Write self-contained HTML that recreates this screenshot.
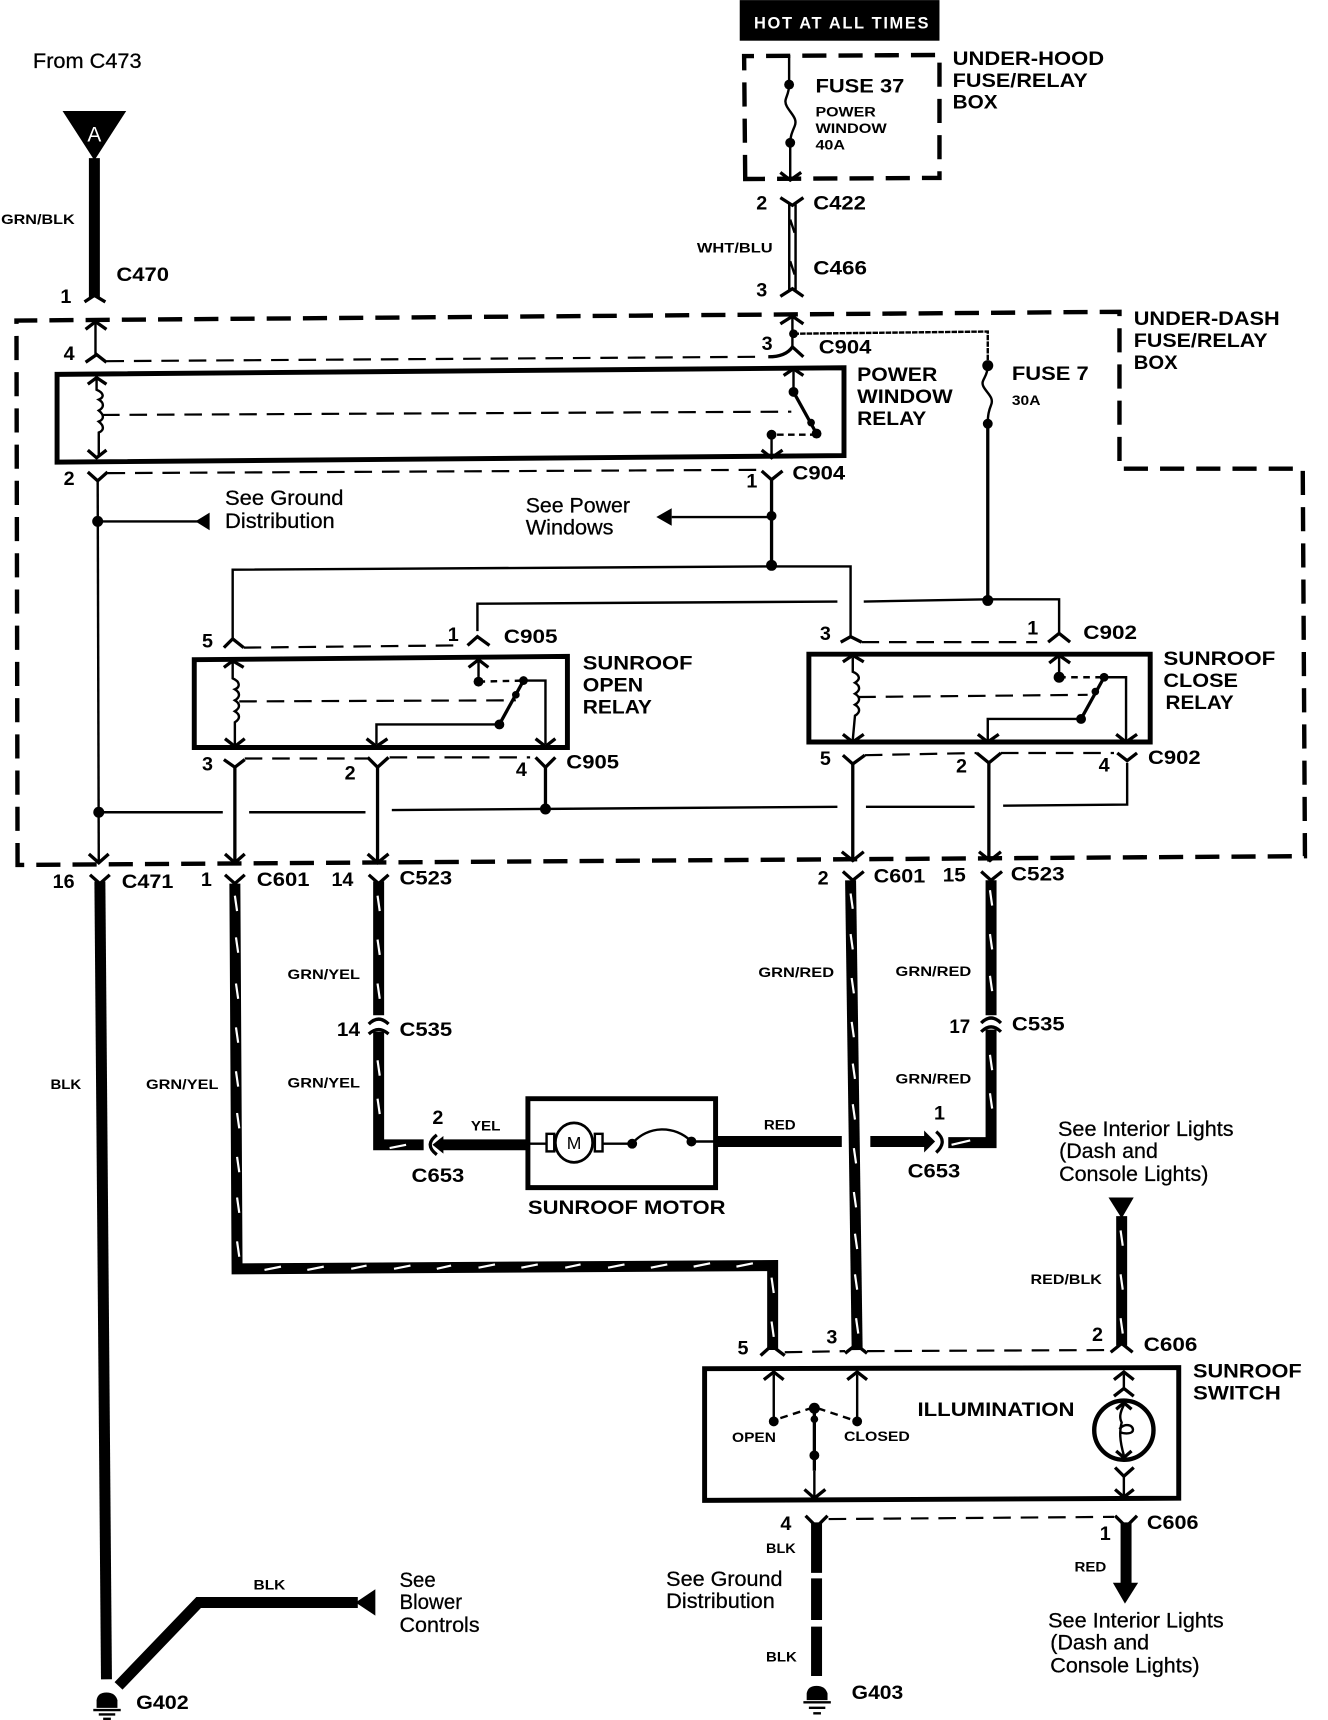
<!DOCTYPE html>
<html><head><meta charset="utf-8"><title>Sunroof wiring diagram</title>
<style>
html,body{margin:0;padding:0;background:#fff}
svg{display:block}
text{font-family:"Liberation Sans",sans-serif;fill:#000}
.b{font-weight:bold}
.s{font-size:18px}.t{font-size:13px}.m{font-size:19px;stroke:#000;stroke-width:.25px}
.w{fill:none;stroke:#000;stroke-linejoin:miter}
.a{fill:none;stroke:#000;stroke-width:3}
.l{fill:none;stroke:#000;stroke-width:2.2}
.h{fill:none;stroke:#000;stroke-width:3}
.d{fill:none;stroke:#000;stroke-width:2;stroke-dasharray:16 9}
.x{fill:none;stroke:#000;stroke-width:4;stroke-dasharray:22 11}
.k{fill:none;stroke:#000;stroke-width:10;stroke-linejoin:miter}
.y{fill:none;stroke:#fff;stroke-width:2}
.r{fill:none;stroke:#000;stroke-width:4.5}
</style></head><body>
<svg xmlns="http://www.w3.org/2000/svg" width="1328" height="1720" viewBox="0 0 1210 1567">
<rect width="1210" height="1567" fill="#fff"/>

<!-- outer dashed boxes -->
<path class="x" d="M16,790 L15,292 L1020,284 L1020,427 L1187,427 L1189,780 L16,788"/>
<path class="x" d="M679,163 L678,51 L856,50 L856,162 Z"/>

<!-- top black banner -->
<rect x="674" y="0" width="182" height="37" fill="#000"/>
<text x="687" y="26" class="b" font-size="15" style="fill:#fff" textLength="159" lengthAdjust="spacing">HOT AT ALL TIMES</text>

<!-- fuse 37 -->
<path class="l" d="M719,50 V77 C719,88 713,90 717,97 C721,104 727,108 724,115 C722,120 720,124 720,130 V162"/>
<circle cx="719" cy="77" r="4.5"/><circle cx="720" cy="130" r="4.5"/>
<path class="a" d="M711,157 L720,164 L730,157"/>

<!-- C422 / C466 wire -->
<path d="M722,186 V264" stroke="#000" stroke-width="8" fill="none"/>
<path d="M722,186 V264" stroke="#fff" stroke-width="3.5" fill="none"/>
<path class="l" d="M720,200 L724,212 M720,238 L724,250"/>
<path class="a" stroke-width="4" d="M711,180 L722,187 L732,180"/>
<path class="a" d="M711,270 L722,263 L732,270"/>

<!-- A triangle and top wire -->
<path d="M57,101 H115 L86,146 Z"/>
<text x="86" y="129" text-anchor="middle" font-size="19" style="fill:#fff">A</text>
<path class="k" d="M86,144 V271"/>
<path class="a" d="M77,275 L86,269 L96,275"/>

<!-- power window relay -->
<path class="r" d="M52,341 L769,335 V415 L52,421 Z"/>
<path class="l" d="M87,294 V325"/>
<path class="a" d="M78,300 L87,293 L97,300"/>
<path class="a" d="M78,330 L88,323 L97,330"/>
<path class="d" d="M97,329 L695,325"/>
<path class="l" d="M722,289 V318"/>
<path class="a" d="M711,295 L722,288 L732,295"/>
<path class="a" d="M700,325 Q716,325 722,316 L732,325"/>
<circle cx="723" cy="304" r="4"/>
<path fill="none" stroke="#000" stroke-width="2.2" stroke-dasharray="5 1" d="M723,304 L900,302 V333"/>
<circle cx="900" cy="333" r="5"/>
<path class="l" d="M900,333 C900,344 893,346 896,352 C899,358 906,362 903,369 C901,374 900,378 900,386"/>
<circle cx="900" cy="386" r="4.5"/>
<path class="h" d="M900,386 V547"/>
<circle cx="900" cy="547" r="5"/>
<path class="l" d="M787,548 L900,546 H965 V576"/>
<path class="l" d="M435,575 V550 L763,548"/>
<path class="a" d="M426,588 L435,580 L446,588"/>
<path class="a" d="M955,585 L965,577 L975,585"/>

<!-- PWR coil -->
<path class="a" d="M80,350 L88,344 L97,350"/>
<path class="l" d="M88,345 V355 C95,358 95,362 90,364 C95,367 95,371 90,374 C95,378 95,382 90,384 C95,388 95,392 90,394 V415"/>
<path class="a" d="M80,410 L88,417 L97,410"/>
<path class="d" d="M93,378 L721,375"/>
<path class="a" d="M714,342 L723,336 L732,342"/>
<path class="l" d="M723,338 V357"/>
<circle cx="723" cy="357" r="4.5"/>
<path class="h" d="M723,357 L744,395"/>
<circle cx="739" cy="385" r="3.5"/><circle cx="744" cy="395" r="4.5"/>
<path class="l" stroke-dasharray="6 4" d="M744,396 L703,396"/>
<circle cx="703" cy="396" r="4.5"/>
<path class="l" d="M703,396 V416"/>
<path class="a" d="M694,410 L703,417 L713,410"/>

<!-- below PWR relay -->
<path class="a" d="M80,430 L89,438 L98,430"/>
<path class="d" d="M98,431 L692,428"/>
<path class="a" d="M694,429 L703,437 L713,429"/>
<path class="l" d="M89,437 L90,786"/>
<circle cx="89" cy="475" r="5"/>
<path class="l" d="M89,475 H180"/>
<path d="M178,475 L191,467 V483 Z"/>
<path class="h" d="M703,437 V515"/>
<circle cx="703" cy="470" r="4.5"/><circle cx="703" cy="515" r="5"/>
<path class="l" d="M612,471 H703"/>
<path d="M598,471 L612,463 V479 Z"/>
<path class="l" d="M212,582 V519 L703,516 H775 V580"/>

<!-- open relay -->
<path class="r" d="M177,601 L517,598 V681 L177,681 Z"/>
<path class="a" d="M204,590 L212,582 L222,590"/>
<path class="d" d="M222,590 L413,588"/>
<path class="a" d="M204,608 L212,602 L222,608"/>
<path class="l" d="M212,603 V618 C219,621 219,626 214,628 C219,631 219,635 214,638 C219,641 219,645 214,648 C219,651 219,655 214,658 L214,679"/>
<path class="a" d="M205,673 L214,680 L223,673"/>
<path class="d" d="M218,639 L470,638"/>
<path class="a" d="M427,608 L436,601 L445,608"/>
<path class="l" d="M436,603 V621"/>
<circle cx="436" cy="621" r="4.5"/>
<path class="l" stroke-dasharray="6 5" d="M436,621 L477,620"/>
<circle cx="477" cy="620" r="4"/>
<path class="l" d="M477,620 H497 V678"/>
<path class="h" d="M477,620 L455,660"/>
<circle cx="470" cy="633" r="3.5"/>
<circle cx="455" cy="660" r="4.5"/>
<path class="l" d="M455,660 H343 V678"/>
<path class="a" d="M334,673 L343,680 L353,673"/>
<path class="a" d="M488,673 L497,680 L506,673"/>

<path class="a" d="M204,692 L214,699 L223,692"/>
<path class="d" d="M223,691 L336,691"/>
<path class="a" d="M335,690 L344,699 L354,690"/>
<path class="d" d="M355,690 L483,690"/>
<path class="a" d="M488,690 L497,699 L506,690"/>
<path class="h" d="M214,699 V785 M344,699 V785"/>
<path class="h" d="M497,699 V737"/>
<circle cx="497" cy="737" r="5"/><circle cx="90" cy="740" r="5"/>
<path class="l" d="M90,740 H203 M227,740 H333 M357,738 L763,735 M789,735 H888 M914,734 L1027,733 V695"/>

<!-- close relay -->
<path class="r" d="M737,596 H1048 V676 H737 Z"/>
<path class="a" d="M766,585 L775,580 L785,585"/>
<path class="d" d="M785,585 L945,585"/>
<path class="a" d="M768,603 L777,597 L787,603"/>
<path class="l" d="M777,599 V612 C784,615 784,619 779,622 C784,625 784,629 779,632 C784,635 784,639 779,642 C784,645 784,649 779,652 L777,674"/>
<path class="a" d="M768,669 L777,676 L787,669"/>
<path class="d" d="M782,635 L991,633"/>
<path class="a" d="M956,604 L965,597 L975,604"/>
<path class="l" d="M965,599 V617"/>
<circle cx="965" cy="617" r="5"/>
<path class="l" stroke-dasharray="6 5" d="M965,617 L1006,617"/>
<circle cx="1006" cy="617" r="4"/>
<path class="l" d="M1006,617 H1026 V674"/>
<path class="h" d="M1006,617 L985,655"/>
<circle cx="998" cy="630" r="3.5"/>
<circle cx="985" cy="655" r="4.5"/>
<path class="l" d="M985,655 H900 V674"/>
<path class="a" d="M891,669 L900,676 L910,669"/>
<path class="a" d="M1017,669 L1026,676 L1036,669"/>

<path class="a" d="M768,688 L777,696 L788,688"/>
<path class="d" d="M788,688 L890,686"/>
<path class="a" d="M890,686 L901,695 L912,686"/>
<path class="d" d="M912,686 L1015,686"/>
<path class="a" d="M1018,686 L1027,693 L1036,686"/>
<path class="h" d="M777,695 V785 M901,695 V785"/>

<!-- arrowheads at box bottom -->
<path class="a" d="M81,778 L90,786 L99,778 M205,778 L214,786 L223,778 M335,778 L344,786 L354,778 M767,776 L777,784 L787,776 M892,776 L902,784 L912,776"/>
<path class="a" stroke-width="4" d="M82,797 L91,805 L100,797 M205,797 L214,805 L223,797 M336,797 L345,805 L354,797 M768,794 L777,802 L787,794 M894,794 L903,802 L913,794"/>

<!-- lower wires -->
<path class="k" d="M91,803 L97,1530"/>
<path class="k" d="M108,1536 L181,1460 L326,1460"/>
<path d="M324,1460 L342,1448 V1472 Z"/>

<path class="k" stroke-width="9" d="M214,805 L216,1156 L704,1153 V1230"/>
<path class="y" d="M214,816 l2,14 M215,854 l2,14 M215,896 l2,14 M215,936 l2,14 M215,976 l2,14 M216,1014 l2,14 M216,1054 l2,14 M216,1091 l2,14 M216,1131 l2,14 M241,1157 l15,-3 M280,1157 l15,-3 M320,1156 l14,-3 M359,1156 l15,-3 M398,1156 l13,-3 M436,1155 l15,-3 M475,1155 l15,-3 M515,1155 l14,-3 M554,1155 l15,-3 M593,1155 l15,-3 M632,1154 l15,-3 M671,1154 l15,-3 M703,1164 l2,14 M703,1204 l2,14"/>

<path class="k" stroke-width="9" d="M345,803 V925"/>
<path class="k" stroke-width="9" d="M345,940 V1043 H386"/>
<path class="y" d="M344,816 l2,14 M344,856 l2,14 M344,896 l2,14 M344,966 l2,14 M344,1001 l2,14 M355,1046 l15,-3"/>
<path class="a" stroke-width="4" d="M336,933 Q345,924 354,933 M336,942 Q345,934 354,942"/>
<path class="a" stroke-width="4" d="M398,1034 Q386,1043 398,1052"/>
<path d="M394,1043 L404,1035 V1051 Z"/>
<path class="k" d="M400,1043 H481"/>

<path class="k" stroke-width="12" d="M775,802 L781,1230"/>
<path class="y" d="M775,814 l2,14 M775,851 l2,14 M776,891 l2,14 M776,931 l2,14 M777,969 l2,14 M777,1006 l2,14 M778,1046 l2,14 M778,1086 l2,14 M779,1124 l2,14 M779,1161 l2,14 M780,1201 l2,14"/>

<path class="k" stroke-width="9" d="M903,802 V925"/>
<path class="k" stroke-width="9" d="M903,938 V1041 H864"/>
<path class="y" d="M902,811 l2,14 M902,851 l2,14 M902,889 l2,14 M902,961 l2,14 M902,996 l2,14 M867,1043 l17,-4"/>
<path class="a" stroke-width="4" d="M894,932 Q903,923 912,932 M894,940 Q903,931 912,940"/>
<path class="k" d="M652,1040 H767"/>
<path class="k" d="M793,1040 H845"/>
<path d="M852,1040 L842,1030 V1050 Z"/>
<path class="a" stroke-width="4" d="M853,1031 Q864,1040 853,1050"/>

<!-- motor -->
<path class="r" d="M481,1001 H652 V1082 H481 Z"/>
<ellipse cx="523" cy="1041" rx="17" ry="18" fill="#fff" stroke="#000" stroke-width="2.5"/>
<rect x="498" y="1033" width="7" height="16" fill="#fff" stroke="#000" stroke-width="2.2"/>
<rect x="542" y="1033" width="7" height="16" fill="#fff" stroke="#000" stroke-width="2.2"/>
<path class="l" d="M481,1042 H498 M549,1042 H576 C590,1025 615,1025 630,1040 H652"/>
<circle cx="576" cy="1042" r="4.5"/><circle cx="630" cy="1040" r="4.5"/>
<text x="523" y="1047" text-anchor="middle" font-size="16">M</text>

<!-- interior lights top -->
<path d="M1010,1091 H1033 L1022,1110 Z"/>
<path class="k" stroke-width="9" d="M1022,1108 V1226"/>
<path class="y" d="M1021,1121 l2,14 M1021,1161 l2,14 M1021,1201 l2,14"/>

<!-- switch -->
<path class="a" stroke-width="4" d="M693,1235 L703,1226 L715,1235 M770,1233 L780,1225 L790,1233 M1012,1232 L1022,1224 L1032,1232"/>
<path class="d" d="M715,1232 L770,1231 M790,1231 L1014,1230"/>
<path class="r" d="M642,1247 L1074,1246 V1365 L642,1367 Z"/>
<path class="a" d="M696,1257 L705,1250 L714,1257 M772,1257 L781,1250 L790,1257"/>
<path class="l" d="M705,1252 V1295 M781,1252 V1295"/>
<circle cx="705" cy="1295" r="4.5"/><circle cx="781" cy="1295" r="4.5"/>
<path class="l" stroke-dasharray="7 5" d="M711,1292 L742,1282 L775,1293"/>
<circle cx="742" cy="1283" r="5"/><circle cx="742" cy="1293" r="3.5"/><circle cx="742" cy="1326" r="4.5"/>
<path class="h" d="M742,1283 V1340"/><path class="l" d="M742,1340 V1364"/>
<path class="a" d="M733,1357 L742,1365 L752,1357"/>
<ellipse cx="1024" cy="1303" rx="27" ry="27" fill="none" stroke="#000" stroke-width="4"/>
<path class="a" d="M1015,1257 L1024,1250 L1033,1257 M1015,1272 L1024,1265 L1033,1272"/>
<path class="l" d="M1024,1252 V1266"/>
<path class="a" d="M1017,1284 L1024,1278 L1031,1284 M1017,1322 L1024,1328 L1031,1322"/>
<path class="l" d="M1024,1280 C1020,1288 1020,1292 1022,1296 C1020,1304 1020,1312 1024,1326"/>
<path class="l" d="M1020,1302 C1024,1296 1034,1298 1032,1304 C1030,1307 1023,1306 1021,1305"/>
<path class="a" d="M1016,1337 L1024,1345 L1033,1337 M1016,1357 L1024,1364 L1033,1357"/>
<path class="l" d="M1024,1345 V1364"/>

<!-- below switch -->
<path class="a" stroke-width="4.5" d="M734,1381 L744,1391 L754,1381 M1016,1381 L1026,1391 L1036,1381"/>
<path class="d" d="M755,1384 L1015,1382"/>
<path class="k" stroke-width="11" d="M744,1387 V1433 M744,1438 V1476 M744,1482 V1527"/>
<path class="k" d="M1026,1387 V1444"/>
<path d="M1014,1442 H1037 L1025,1461 Z"/>

<!-- grounds -->
<path d="M735,1549 V1543 Q736,1536 744,1536 Q752,1536 754,1543 V1549 Z"/>
<path class="l" d="M732,1551 H757 M737,1556 H752 M741,1561 H748"/>
<path d="M88,1556 V1549 Q89,1542 97,1542 Q105,1542 107,1549 V1556 Z"/>
<path class="l" d="M85,1558 H110 M90,1562 H105 M94,1566 H101"/>

<!-- labels -->
<g>
<text x="30" y="62" class="m" textLength="99" lengthAdjust="spacingAndGlyphs">From C473</text>
<text x="1" y="204" class="b t" textLength="67" lengthAdjust="spacingAndGlyphs">GRN/BLK</text>
<text x="106" y="256" class="b s" textLength="48" lengthAdjust="spacingAndGlyphs">C470</text>
<text x="55" y="276" class="b s">1</text>
<text x="58" y="328" class="b s">4</text>
<text x="58" y="442" class="b s">2</text>
<text x="694" y="319" class="b s">3</text>
<text x="746" y="322" class="b s" textLength="48" lengthAdjust="spacingAndGlyphs">C904</text>
<text x="680" y="444" class="b s">1</text>
<text x="722" y="437" class="b s" textLength="48" lengthAdjust="spacingAndGlyphs">C904</text>

<text x="743" y="84" class="b s" textLength="81" lengthAdjust="spacingAndGlyphs">FUSE 37</text>
<text x="743" y="106" class="b" font-size="12.5" textLength="55" lengthAdjust="spacingAndGlyphs">POWER</text>
<text x="743" y="121" class="b" font-size="12.5" textLength="65" lengthAdjust="spacingAndGlyphs">WINDOW</text>
<text x="743" y="136" class="b" font-size="12.5" textLength="27" lengthAdjust="spacingAndGlyphs">40A</text>
<text x="868" y="59" class="b s" textLength="138" lengthAdjust="spacingAndGlyphs">UNDER-HOOD</text>
<text x="868" y="79" class="b s" textLength="123" lengthAdjust="spacingAndGlyphs">FUSE/RELAY</text>
<text x="868" y="99" class="b s" textLength="41" lengthAdjust="spacingAndGlyphs">BOX</text>

<text x="689" y="191" class="b s">2</text>
<text x="741" y="191" class="b s" textLength="48" lengthAdjust="spacingAndGlyphs">C422</text>
<text x="635" y="230" class="b t" textLength="69" lengthAdjust="spacingAndGlyphs">WHT/BLU</text>
<text x="741" y="250" class="b s" textLength="49" lengthAdjust="spacingAndGlyphs">C466</text>
<text x="689" y="270" class="b s">3</text>

<text x="1033" y="296" class="b s" textLength="133" lengthAdjust="spacingAndGlyphs">UNDER-DASH</text>
<text x="1033" y="316" class="b s" textLength="122" lengthAdjust="spacingAndGlyphs">FUSE/RELAY</text>
<text x="1033" y="336" class="b s" textLength="40" lengthAdjust="spacingAndGlyphs">BOX</text>
<text x="922" y="346" class="b s" textLength="70" lengthAdjust="spacingAndGlyphs">FUSE 7</text>
<text x="922" y="369" class="b" font-size="12.5" textLength="26" lengthAdjust="spacingAndGlyphs">30A</text>

<text x="781" y="347" class="b s" textLength="73" lengthAdjust="spacingAndGlyphs">POWER</text>
<text x="781" y="367" class="b s" textLength="87" lengthAdjust="spacingAndGlyphs">WINDOW</text>
<text x="781" y="387" class="b s" textLength="63" lengthAdjust="spacingAndGlyphs">RELAY</text>

<text x="205" y="460" class="m" textLength="108" lengthAdjust="spacingAndGlyphs">See Ground</text>
<text x="205" y="481" class="m" textLength="100" lengthAdjust="spacingAndGlyphs">Distribution</text>
<text x="479" y="467" class="m" textLength="95" lengthAdjust="spacingAndGlyphs">See Power</text>
<text x="479" y="487" class="m" textLength="80" lengthAdjust="spacingAndGlyphs">Windows</text>

<text x="184" y="590" class="b s">5</text>
<text x="408" y="584" class="b s">1</text>
<text x="459" y="586" class="b s" textLength="49" lengthAdjust="spacingAndGlyphs">C905</text>
<text x="531" y="610" class="b s" textLength="100" lengthAdjust="spacingAndGlyphs">SUNROOF</text>
<text x="531" y="630" class="b s" textLength="55" lengthAdjust="spacingAndGlyphs">OPEN</text>
<text x="531" y="650" class="b s" textLength="63" lengthAdjust="spacingAndGlyphs">RELAY</text>
<text x="184" y="702" class="b s">3</text>
<text x="314" y="710" class="b s">2</text>
<text x="470" y="707" class="b s">4</text>
<text x="516" y="700" class="b s" textLength="48" lengthAdjust="spacingAndGlyphs">C905</text>

<text x="747" y="583" class="b s">3</text>
<text x="936" y="578" class="b s">1</text>
<text x="987" y="582" class="b s" textLength="49" lengthAdjust="spacingAndGlyphs">C902</text>
<text x="1060" y="606" class="b s" textLength="102" lengthAdjust="spacingAndGlyphs">SUNROOF</text>
<text x="1060" y="626" class="b s" textLength="68" lengthAdjust="spacingAndGlyphs">CLOSE</text>
<text x="1062" y="646" class="b s" textLength="62" lengthAdjust="spacingAndGlyphs">RELAY</text>
<text x="747" y="697" class="b s">5</text>
<text x="871" y="704" class="b s">2</text>
<text x="1001" y="703" class="b s">4</text>
<text x="1046" y="696" class="b s" textLength="48" lengthAdjust="spacingAndGlyphs">C902</text>

<text x="48" y="809" class="b s" textLength="20" lengthAdjust="spacingAndGlyphs">16</text>
<text x="111" y="809" class="b s" textLength="47" lengthAdjust="spacingAndGlyphs">C471</text>
<text x="183" y="807" class="b s">1</text>
<text x="234" y="807" class="b s" textLength="48" lengthAdjust="spacingAndGlyphs">C601</text>
<text x="302" y="807" class="b s" textLength="20" lengthAdjust="spacingAndGlyphs">14</text>
<text x="364" y="806" class="b s" textLength="48" lengthAdjust="spacingAndGlyphs">C523</text>
<text x="745" y="806" class="b s">2</text>
<text x="796" y="804" class="b s" textLength="47" lengthAdjust="spacingAndGlyphs">C601</text>
<text x="859" y="803" class="b s" textLength="21" lengthAdjust="spacingAndGlyphs">15</text>
<text x="921" y="802" class="b s" textLength="49" lengthAdjust="spacingAndGlyphs">C523</text>

<text x="46" y="992" class="b t" textLength="28" lengthAdjust="spacingAndGlyphs">BLK</text>
<text x="133" y="992" class="b t" textLength="66" lengthAdjust="spacingAndGlyphs">GRN/YEL</text>
<text x="262" y="892" class="b t" textLength="66" lengthAdjust="spacingAndGlyphs">GRN/YEL</text>
<text x="262" y="991" class="b t" textLength="66" lengthAdjust="spacingAndGlyphs">GRN/YEL</text>
<text x="307" y="944" class="b s" textLength="21" lengthAdjust="spacingAndGlyphs">14</text>
<text x="364" y="944" class="b s" textLength="48" lengthAdjust="spacingAndGlyphs">C535</text>
<text x="394" y="1024" class="b s">2</text>
<text x="429" y="1030" class="b t" textLength="27" lengthAdjust="spacingAndGlyphs">YEL</text>
<text x="375" y="1077" class="b s" textLength="48" lengthAdjust="spacingAndGlyphs">C653</text>
<text x="481" y="1106" class="b s" textLength="180" lengthAdjust="spacingAndGlyphs">SUNROOF MOTOR</text>

<text x="691" y="890" class="b t" textLength="69" lengthAdjust="spacingAndGlyphs">GRN/RED</text>
<text x="816" y="889" class="b t" textLength="69" lengthAdjust="spacingAndGlyphs">GRN/RED</text>
<text x="816" y="987" class="b t" textLength="69" lengthAdjust="spacingAndGlyphs">GRN/RED</text>
<text x="865" y="941" class="b s" textLength="19" lengthAdjust="spacingAndGlyphs">17</text>
<text x="922" y="939" class="b s" textLength="48" lengthAdjust="spacingAndGlyphs">C535</text>
<text x="851" y="1020" class="b s">1</text>
<text x="696" y="1029" class="b t" textLength="29" lengthAdjust="spacingAndGlyphs">RED</text>
<text x="827" y="1073" class="b s" textLength="48" lengthAdjust="spacingAndGlyphs">C653</text>

<text x="964" y="1035" class="m" textLength="160" lengthAdjust="spacingAndGlyphs">See Interior Lights</text>
<text x="965" y="1055" class="m" textLength="90" lengthAdjust="spacingAndGlyphs">(Dash and</text>
<text x="965" y="1076" class="m" textLength="136" lengthAdjust="spacingAndGlyphs">Console Lights)</text>
<text x="939" y="1170" class="b t" textLength="65" lengthAdjust="spacingAndGlyphs">RED/BLK</text>
<text x="995" y="1222" class="b s">2</text>
<text x="1042" y="1231" class="b s" textLength="49" lengthAdjust="spacingAndGlyphs">C606</text>
<text x="672" y="1234" class="b s">5</text>
<text x="753" y="1224" class="b s">3</text>
<text x="1087" y="1255" class="b s" textLength="99" lengthAdjust="spacingAndGlyphs">SUNROOF</text>
<text x="1087" y="1275" class="b s" textLength="80" lengthAdjust="spacingAndGlyphs">SWITCH</text>
<text x="836" y="1290" class="b s" textLength="143" lengthAdjust="spacingAndGlyphs">ILLUMINATION</text>
<text x="667" y="1314" class="b t" textLength="40" lengthAdjust="spacingAndGlyphs">OPEN</text>
<text x="769" y="1313" class="b t" textLength="60" lengthAdjust="spacingAndGlyphs">CLOSED</text>

<text x="711" y="1394" class="b s">4</text>
<text x="698" y="1415" class="b t" textLength="27" lengthAdjust="spacingAndGlyphs">BLK</text>
<text x="698" y="1514" class="b t" textLength="28" lengthAdjust="spacingAndGlyphs">BLK</text>
<text x="607" y="1445" class="m" textLength="106" lengthAdjust="spacingAndGlyphs">See Ground</text>
<text x="607" y="1465" class="m" textLength="99" lengthAdjust="spacingAndGlyphs">Distribution</text>
<text x="1002" y="1403" class="b s">1</text>
<text x="1045" y="1393" class="b s" textLength="47" lengthAdjust="spacingAndGlyphs">C606</text>
<text x="979" y="1432" class="b t" textLength="29" lengthAdjust="spacingAndGlyphs">RED</text>
<text x="955" y="1483" class="m" textLength="160" lengthAdjust="spacingAndGlyphs">See Interior Lights</text>
<text x="957" y="1503" class="m" textLength="90" lengthAdjust="spacingAndGlyphs">(Dash and</text>
<text x="957" y="1524" class="m" textLength="136" lengthAdjust="spacingAndGlyphs">Console Lights)</text>
<text x="776" y="1548" class="b s" textLength="47" lengthAdjust="spacingAndGlyphs">G403</text>
<text x="124" y="1557" class="b s" textLength="48" lengthAdjust="spacingAndGlyphs">G402</text>
<text x="231" y="1448" class="b t" textLength="29" lengthAdjust="spacingAndGlyphs">BLK</text>
<text x="364" y="1446" class="m" textLength="33" lengthAdjust="spacingAndGlyphs">See</text>
<text x="364" y="1466" class="m" textLength="57" lengthAdjust="spacingAndGlyphs">Blower</text>
<text x="364" y="1487" class="m" textLength="73" lengthAdjust="spacingAndGlyphs">Controls</text>
</g>
</svg>
</body></html>
